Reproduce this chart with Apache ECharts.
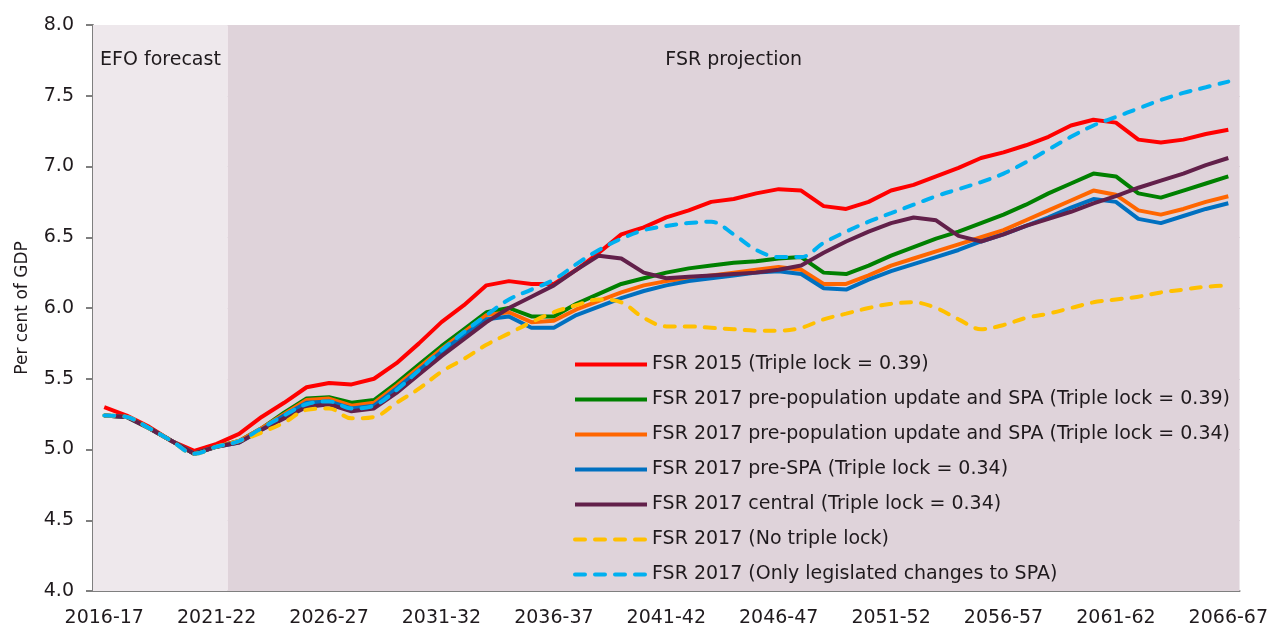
<!DOCTYPE html>
<html>
<head>
<meta charset="utf-8">
<script src="https://cdn.jsdelivr.net/npm/echarts@6/dist/echarts.min.js"></script>
<style>
  html, body { margin: 0; padding: 0; background: #fff; }
  #chart { width: 1271px; height: 628px; }
</style>
</head>
<body>
<div id="chart"></div>
<script>
  // financial years 2016-17 .. 2066-67
  var years = []
  for (var y = 2016; y <= 2066; y++) {
    years.push(y + '-' + String(y + 1).slice(2))
  }
  var forecastLast = '2021-22'

  var fsr2015 = [5.30, 5.24, 5.16, 5.06, 4.99, 5.04, 5.11, 5.23, 5.33, 5.44, 5.47, 5.46, 5.50, 5.61, 5.75, 5.90, 6.02, 6.16, 6.19, 6.17,
    6.17, 6.27, 6.39, 6.52, 6.57, 6.64, 6.69, 6.75, 6.77, 6.81, 6.84, 6.83, 6.72, 6.70, 6.75, 6.83, 6.87, 6.93, 6.99, 7.06,
    7.10, 7.15, 7.21, 7.29, 7.33, 7.31, 7.19, 7.17, 7.19, 7.23, 7.26]
  var prePopSpa39 = [5.24, 5.23, 5.15, 5.06, 4.97, 5.02, 5.06, 5.15, 5.26, 5.36, 5.37, 5.33, 5.35, 5.47, 5.60, 5.73, 5.85, 5.97, 6.00, 5.94,
    5.94, 6.03, 6.10, 6.17, 6.21, 6.25, 6.28, 6.30, 6.32, 6.33, 6.35, 6.36, 6.25, 6.24, 6.30, 6.37, 6.43, 6.49, 6.54, 6.60,
    6.66, 6.73, 6.81, 6.88, 6.95, 6.93, 6.81, 6.78, 6.83, 6.88, 6.93]
  var prePopSpa34 = [5.24, 5.23, 5.15, 5.06, 4.97, 5.02, 5.06, 5.15, 5.25, 5.35, 5.36, 5.31, 5.33, 5.45, 5.58, 5.71, 5.83, 5.95, 5.97, 5.90,
    5.91, 5.99, 6.05, 6.11, 6.16, 6.19, 6.21, 6.23, 6.25, 6.27, 6.29, 6.27, 6.17, 6.17, 6.23, 6.30, 6.35, 6.40, 6.45, 6.50,
    6.55, 6.62, 6.69, 6.76, 6.83, 6.80, 6.69, 6.66, 6.70, 6.75, 6.79]
  var preSpa34 = [5.24, 5.23, 5.15, 5.06, 4.97, 5.02, 5.05, 5.14, 5.24, 5.33, 5.34, 5.29, 5.31, 5.43, 5.56, 5.69, 5.81, 5.92, 5.94, 5.86,
    5.86, 5.95, 6.01, 6.07, 6.12, 6.16, 6.19, 6.21, 6.23, 6.25, 6.26, 6.24, 6.14, 6.13, 6.20, 6.26, 6.31, 6.36, 6.41, 6.47,
    6.52, 6.58, 6.64, 6.71, 6.77, 6.75, 6.63, 6.60, 6.65, 6.70, 6.74]
  var central34 = [5.24, 5.23, 5.15, 5.06, 4.97, 5.02, 5.05, 5.14, 5.22, 5.30, 5.32, 5.27, 5.29, 5.40, 5.53, 5.66, 5.78, 5.90, 6.00, 6.08,
    6.16, 6.27, 6.37, 6.35, 6.25, 6.21, 6.22, 6.23, 6.24, 6.25, 6.27, 6.30, 6.39, 6.47, 6.54, 6.60, 6.64, 6.62, 6.51, 6.47,
    6.52, 6.58, 6.63, 6.68, 6.74, 6.79, 6.85, 6.90, 6.95, 7.01, 7.06]
  var noTripleLock = [5.24, 5.23, 5.15, 5.06, 4.97, 5.02, 5.06, 5.12, 5.19, 5.28, 5.29, 5.22, 5.23, 5.33, 5.43, 5.55, 5.64, 5.74, 5.82, 5.90,
    5.97, 6.02, 6.06, 6.04, 5.93, 5.87, 5.87, 5.86, 5.85, 5.84, 5.84, 5.86, 5.92, 5.96, 6.00, 6.03, 6.04, 6.00, 5.92, 5.85,
    5.88, 5.93, 5.96, 6.00, 6.04, 6.06, 6.08, 6.11, 6.13, 6.15, 6.16]
  var legislatedSpa = [5.24, 5.23, 5.15, 5.06, 4.97, 5.02, 5.06, 5.15, 5.24, 5.32, 5.34, 5.29, 5.31, 5.42, 5.56, 5.70, 5.83, 5.95, 6.06, 6.13,
    6.20, 6.31, 6.41, 6.49, 6.55, 6.58, 6.60, 6.61, 6.52, 6.41, 6.36, 6.36, 6.46, 6.54, 6.61, 6.67, 6.73, 6.79, 6.84, 6.89,
    6.95, 7.03, 7.12, 7.21, 7.29, 7.35, 7.41, 7.47, 7.52, 7.56, 7.60]

  var font = 'DejaVu Sans'
  var textColor = '#1f1a1d'

  function solid(name, color, data) {
    return {
      name: name,
      type: 'line',
      data: data,
      symbol: 'none',
      lineStyle: { color: color, width: 4 },
      itemStyle: { color: color }
    }
  }
  function dashed(name, color, data) {
    return {
      name: name,
      type: 'line',
      data: data,
      symbol: 'none',
      smooth: 0.35,
      lineStyle: { color: color, width: 4, type: [10, 10], cap: 'round' },
      itemStyle: { color: color }
    }
  }

  var chart = echarts.init(document.getElementById('chart'))
  var split = years.indexOf(forecastLast) + 1

  var option = {
    animation: false,
    textStyle: { fontFamily: font, color: textColor },
    grid: { left: 93, right: 31, top: 25, bottom: 37 },
    legend: {
      orient: 'vertical',
      left: 573,
      top: 355,
      padding: 0,
      itemWidth: 72,
      itemHeight: 14,
      itemGap: 16,
      itemStyle: { opacity: 0 },
      lineStyle: { width: 4 },
      textStyle: { fontSize: 19, color: textColor, fontFamily: font },
      data: ['FSR 2015 (Triple lock = 0.39)',
        'FSR 2017 pre-population update and SPA (Triple lock = 0.39)',
        'FSR 2017 pre-population update and SPA (Triple lock = 0.34)',
        'FSR 2017 pre-SPA (Triple lock = 0.34)',
        'FSR 2017 central (Triple lock = 0.34)',
        'FSR 2017 (No triple lock)',
        'FSR 2017 (Only legislated changes to SPA)']
    },
    xAxis: [{
      type: 'category',
      data: years,
      boundaryGap: true,
      axisLine: { lineStyle: { color: '#7f7f7f', width: 2 } },
      axisTick: { interval: 0, length: 6, lineStyle: { color: '#7f7f7f', width: 2 } },
      axisLabel: { interval: 4, fontSize: 19, color: textColor, margin: 18 }
    }, {
      type: 'value',
      min: 0,
      max: years.length,
      show: false
    }],
    yAxis: {
      type: 'value',
      min: 4,
      max: 8,
      interval: 0.5,
      name: 'Per cent of GDP',
      nameLocation: 'middle',
      nameGap: 62,
      nameTextStyle: { fontSize: 17, color: textColor },
      axisLine: { show: true, lineStyle: { color: '#7f7f7f', width: 2 } },
      axisTick: { show: true, length: 7, lineStyle: { color: '#7f7f7f', width: 2 } },
      axisLabel: { fontSize: 19, color: textColor, margin: 19, formatter: function(v) { return v.toFixed(1) } },
      splitLine: { show: true, lineStyle: { color: '#c4b8bf', type: 'dotted', width: 1 } }
    },
    series: [{
      name: 'bg',
      type: 'line',
      xAxisIndex: 1,
      data: [],
      z: -10,
      silent: true,
      markArea: {
        silent: true,
        label: { position: 'insideTop', distance: 26, fontSize: 19, color: textColor, fontFamily: font },
        data: [
          [{ name: 'EFO forecast', xAxis: 0, itemStyle: { color: '#eee8ec' } }, { xAxis: split }],
          [{ name: 'FSR projection', xAxis: split, itemStyle: { color: '#dfd3da' } }, { xAxis: years.length }]
        ]
      }
    },
    solid('FSR 2015 (Triple lock = 0.39)', '#ff0000', fsr2015),
    solid('FSR 2017 pre-population update and SPA (Triple lock = 0.39)', '#008000', prePopSpa39),
    solid('FSR 2017 pre-population update and SPA (Triple lock = 0.34)', '#ff6600', prePopSpa34),
    solid('FSR 2017 pre-SPA (Triple lock = 0.34)', '#0070c0', preSpa34),
    solid('FSR 2017 central (Triple lock = 0.34)', '#62204a', central34),
    dashed('FSR 2017 (No triple lock)', '#ffc000', noTripleLock),
    dashed('FSR 2017 (Only legislated changes to SPA)', '#00b0f0', legislatedSpa)
    ]
  }
  chart.setOption(option)
</script>
</body>
</html>
